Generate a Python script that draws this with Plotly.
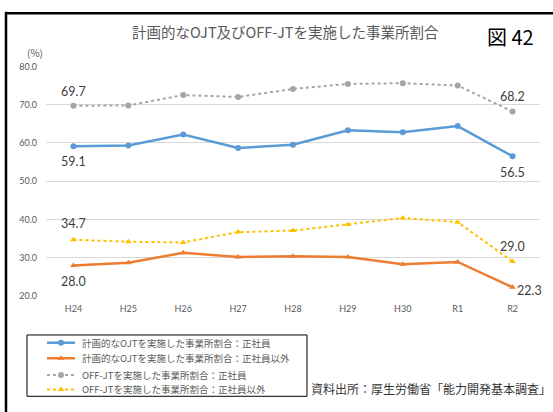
import plotly.graph_objects as go

# Survey years (Heisei / Reiwa)
years = ["H24", "H25", "H26", "H27", "H28", "H29", "H30", "R1", "R2"]

# Share of establishments (%)
ojt_regular = [59.1, 59.3, 62.2, 58.7, 59.5, 63.3, 62.8, 64.4, 56.5]
ojt_nonregular = [28.0, 28.7, 31.3, 30.2, 30.4, 30.2, 28.3, 28.9, 22.3]
offjt_regular = [69.7, 69.8, 72.5, 72.0, 74.1, 75.4, 75.6, 75.0, 68.2]
offjt_nonregular = [34.7, 34.2, 34.0, 36.7, 37.1, 38.7, 40.4, 39.3, 29.0]

series_names = [
    "計画的なOJTを実施した事業所割合：正社員",
    "計画的なOJTを実施した事業所割合：正社員以外",
    "OFF-JTを実施した事業所割合：正社員",
    "OFF-JTを実施した事業所割合：正社員以外",
]

title_text = "計画的なOJT及びOFF-JTを実施した事業所割合"
figure_no = "図 42"
source_text = "資料出所：厚生労働省「能力開発基本調査」"

# Canvas size and plot-area box in pixels (margins are zero, so the
# paper spans the whole canvas and pixel positions map directly)
W, H = 553, 412
L, R, T, B = 46, 540, 62, 298

# Key box in pixels
KL, KR, KT, KB = 27, 307, 338, 401


def px(xp):
    return xp / W


def py(yp):
    return 1 - yp / H


JP = "Noto Sans CJK JP"
NUM = "Lato, Noto Sans CJK JP"

styles = [
    (ojt_regular, "#5B9BD5", "solid", "circle", 2.5, 6),
    (ojt_nonregular, "#ED7D31", "solid", "triangle-up", 2.5, 6),
    (offjt_regular, "#A5A5A5", "dot", "circle", 2.0, 6),
    (offjt_nonregular, "#FFC000", "dot", "triangle-up", 2.0, 6),
]

fig = go.Figure()

for (vals, color, dash, sym, lw, ms), name in zip(styles, series_names):
    fig.add_trace(go.Scatter(
        x=years, y=vals, name=name, mode="lines+markers",
        line=dict(color=color, width=lw, dash=dash),
        marker=dict(color=color, symbol=sym, size=ms),
        showlegend=False,
    ))

# Key samples drawn on a small overlay axis measured in pixels
row_y = [346, 362, 379, 394]
sample_x0, sample_x1 = 47, 75
for ((vals, color, dash, sym, lw, ms), name), ry in zip(zip(styles, series_names), row_y):
    fig.add_trace(go.Scatter(
        x=[sample_x0, sample_x1], y=[ry, ry], mode="lines",
        line=dict(color=color, width=lw, dash=dash),
        xaxis="x2", yaxis="y2", showlegend=False, hoverinfo="skip",
    ))
    fig.add_trace(go.Scatter(
        x=[(sample_x0 + sample_x1) / 2], y=[ry], mode="markers",
        marker=dict(color=color, symbol=sym, size=ms),
        xaxis="x2", yaxis="y2", showlegend=False, hoverinfo="skip",
    ))

annotations = []

# End-point value labels (first and last year)
label_specs = [
    (offjt_regular, 0, 0, 14), (offjt_regular, -1, 0, 15),
    (ojt_regular, 0, 0, -15), (ojt_regular, -1, 0, -16),
    (offjt_nonregular, 0, 0, 16), (offjt_nonregular, -1, 0, 15),
    (ojt_nonregular, 0, 0, -16), (ojt_nonregular, -1, 17, -3),
]
for vals, idx, dx, dy in label_specs:
    i = idx % len(years)
    annotations.append(dict(
        x=years[i], y=vals[i], xref="x", yref="y",
        text=f"{vals[i]:.1f}", showarrow=False,
        xshift=dx, yshift=dy,
        font=dict(family=NUM, size=12.5, color="#404040"),
    ))

# Key labels
for name, ry in zip(series_names, row_y):
    annotations.append(dict(
        x=px(80), y=py(ry), xref="paper", yref="paper", text=name,
        showarrow=False, xanchor="left", yanchor="middle",
        font=dict(family=JP, size=9.5, color="#595959"),
    ))

annotations += [
    dict(x=px(285), y=py(26), xref="paper", yref="paper", text=title_text,
         showarrow=False, xanchor="center", yanchor="middle",
         font=dict(family=JP, size=14.5, color="#595959")),
    dict(x=px(510), y=py(31), xref="paper", yref="paper", text=figure_no,
         showarrow=False, xanchor="center", yanchor="middle",
         font=dict(family="Liberation Sans Narrow, Noto Sans CJK JP", size=20, color="#000000")),
    dict(x=px(35), y=py(48), xref="paper", yref="paper", text="(%)",
         showarrow=False, xanchor="center", yanchor="middle",
         font=dict(family=JP, size=10, color="#595959")),
    dict(x=px(553), y=py(393), xref="paper", yref="paper", text=source_text,
         showarrow=False, xanchor="right", yanchor="middle",
         font=dict(family=JP, size=12, color="#333333")),
]

shapes = [
    # heavy frame around the figure (top and left edges visible)
    dict(type="line", xref="paper", yref="paper",
         x0=px(5), x1=px(560), y0=py(7.5), y1=py(7.5),
         line=dict(color="#000000", width=2.5)),
    dict(type="line", xref="paper", yref="paper",
         x0=px(6), x1=px(6), y0=py(6), y1=py(420),
         line=dict(color="#000000", width=2.5)),
    # key box
    dict(type="rect", xref="paper", yref="paper",
         x0=px(KL), x1=px(KR), y0=py(KB), y1=py(KT),
         line=dict(color="#000000", width=1), layer="below"),
]

fig.update_layout(
    width=W, height=H,
    margin=dict(l=0, r=0, t=0, b=0),
    paper_bgcolor="white", plot_bgcolor="white",
    showlegend=False,
    annotations=annotations,
    shapes=shapes,
    xaxis=dict(
        domain=[px(L), px(R)],
        type="category", range=[-0.5, 8.5], showgrid=False, zeroline=False,
        showline=False, ticks="", ticklabelstandoff=6,
        tickfont=dict(family=NUM, size=9, color="#595959"),
    ),
    yaxis=dict(
        domain=[py(B), py(T)],
        range=[20, 80], dtick=10, tickformat=".1f", showgrid=True,
        gridcolor="#D9D9D9", gridwidth=1, zeroline=False, showline=False,
        ticks="", ticklabelstandoff=8,
        tickfont=dict(family=NUM, size=9, color="#595959"),
    ),
    xaxis2=dict(
        domain=[px(KL), px(KR)], range=[KL, KR], anchor="y2",
        visible=False, fixedrange=True,
    ),
    yaxis2=dict(
        domain=[py(KB), py(KT)], range=[KB, KT], anchor="x2",
        visible=False, fixedrange=True,
    ),
)

fig.write_html("out.html")
